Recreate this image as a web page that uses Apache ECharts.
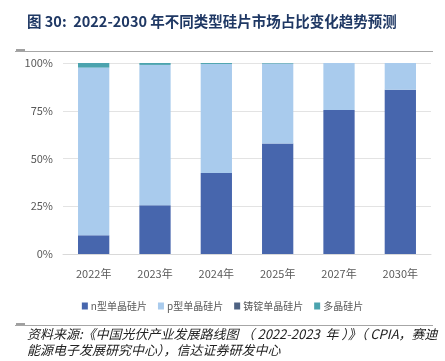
<!DOCTYPE html>
<html><head><meta charset="utf-8">
<script src="https://cdn.jsdelivr.net/npm/echarts@6/dist/echarts.min.js"></script>
<style>html,body{margin:0;padding:0;background:#fff}#c{width:445px;height:361px}</style>
</head><body><div id="c"></div>
<script>
const categories = ['2022年','2023年','2024年','2025年','2027年','2030年'];
const nMono = [9.8, 25.5, 42.4, 57.9, 75.4, 86.0];
const pMono = [87.8, 73.5, 57.1, 41.8, 24.6, 14.0];
const castMono = [0, 0, 0, 0, 0, 0];
const poly = [2.4, 1.0, 0.5, 0.3, 0, 0];
const yTicks = ['0%','25%','50%','75%','100%'];
const seriesNames = ['n型单晶硅片','p型单晶硅片','铸锭单晶硅片','多晶硅片'];
const colors = ['#4766AD','#A9CBED','#4E6282','#4BA3AE'];

const chart = echarts.init(document.getElementById('c'));
const font = '"Noto Sans CJK SC", "Noto Sans", sans-serif';
const dataSets = [nMono, pMono, castMono, poly];
chart.setOption({
  animation: false,
  color: colors,
  grid: {left: 63, right: 14, top: 63, bottom: 107},
  legend: {
    bottom: 45, left: 'center', itemWidth: 6, itemHeight: 7, itemGap: 11,
    icon: 'rect',
    textStyle: {fontSize: 10, color: '#595959', fontFamily: font, padding: [0,0,0,-2]},
    data: seriesNames
  },
  xAxis: {
    type: 'category', data: categories,
    axisLine: {lineStyle: {color: '#D9D9D9'}}, axisTick: {show: false},
    axisLabel: {fontSize: 11, color: '#595959', fontFamily: font, margin: 14}
  },
  yAxis: {
    type: 'value', min: 0, max: 100, interval: 25,
    axisLine: {show: false}, axisTick: {show: false},
    splitLine: {lineStyle: {color: '#E3E3E3', width: 1}},
    axisLabel: {fontSize: 11, color: '#595959', fontFamily: font, margin: 10,
      formatter: (v) => yTicks[Math.round(v/25)]}
  },
  series: seriesNames.map((name, i) => ({
    name, type: 'bar', stack: 'all', barWidth: '51%',
    data: dataSets[i],
    itemStyle: {color: colors[i]}
  })),
  graphic: [
    {type: 'text', left: 27, top: 14, style: {text: '图 30:  2022-2030 年不同类型硅片市场占比变化趋势预测', fill: '#1F3864', font: 'bold 14.5px ' + font}},
    {type: 'line', shape: {x1: 15, y1: 51.5, x2: 433, y2: 51.5}, style: {stroke: '#A6A6A6', lineWidth: 1}},
    {type: 'line', shape: {x1: 16, y1: 50, x2: 25, y2: 50}, style: {stroke: '#404040', lineWidth: 1}},
    {type: 'line', shape: {x1: 15, y1: 325.5, x2: 433, y2: 325.5}, style: {stroke: '#A6A6A6', lineWidth: 1}},
    {type: 'line', shape: {x1: 16, y1: 324, x2: 25, y2: 324}, style: {stroke: '#404040', lineWidth: 1}},
    {type: 'text', left: 27, top: 328, style: {text: '资料来源:《中国光伏产业发展路线图 （ 2022-2023  年 ）》（ CPIA，赛迪', fill: '#222', font: 'italic 13px ' + font}},
    {type: 'text', left: 27, top: 344, style: {text: '能源电子发展研究中心），信达证券研发中心', fill: '#222', font: 'italic 13px ' + font}}
  ]
});
</script></body></html>
